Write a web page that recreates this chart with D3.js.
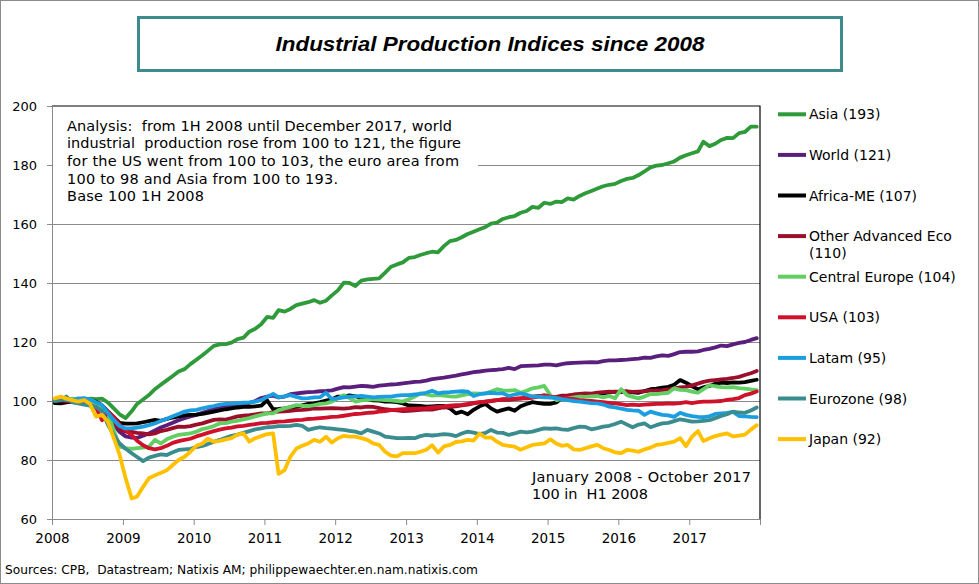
<!DOCTYPE html>
<html><head><meta charset="utf-8">
<script src="https://cdn.jsdelivr.net/npm/d3@7/dist/d3.min.js"></script>
<style>body{margin:0;background:#fff}svg{display:block}text{white-space:pre}</style>
</head><body>
<svg id="chart" width="979" height="584"></svg>
<script>
// ---------- data ----------
const titleText = "Industrial Production Indices since 2008";
const yTickValues = [60, 80, 100, 120, 140, 160, 180, 200];
const xTickYears = [2008, 2009, 2010, 2011, 2012, 2013, 2014, 2015, 2016, 2017];
const seriesKeys = ["Asia", "World", "Africa-ME", "Other Advanced Eco", "Central Europe", "USA", "Latam", "Eurozone", "Japan"];
const legendLabels = [["Asia (193)"], ["World (121)"], ["Africa-ME (107)"], ["Other Advanced Eco", "(110)"], ["Central Europe (104)"], ["USA (103)"], ["Latam (95)"], ["Eurozone (98)"], ["Japan (92)"]];
const analysisLines = [
  "Analysis:  from 1H 2008 until December 2017, world",
  "industrial  production rose from 100 to 121, the figure",
  "for the US went from 100 to 103, the euro area from",
  "100 to 98 and Asia from 100 to 193.",
  "Base 100 1H 2008"
];
const periodLines = ["January 2008 - October 2017", "100 in  H1 2008"];
const sourceText = "Sources: CPB,  Datastream; Natixis AM; philippewaechter.en.nam.natixis.com";

// monthly values, Jan 2008 .. Dec 2017
const asia = [
100,100.3,100.2,100.6,100.8,100.5,100.8,100.6,100.8,99.5,97.5,95.5,
94.2,96.5,99,100.5,102,104,105.5,107,108.5,110,110.8,112.5,
114,115.5,117,118.7,119.2,119.3,119.8,121,121.5,123.5,124.5,126,
128.5,128.2,130.8,130.3,131.2,132.5,133,133.5,134.2,133.3,134,135.8,
137.5,140.1,140,139,140.8,141.2,141.4,141.6,143.5,145.5,146.3,147,
148.5,148.8,149.5,150.1,150.6,150.4,152.5,154.2,154.6,155.5,156.6,157.4,
158.2,159,160.1,160.5,161.7,162.3,162.7,163.8,164.4,165.8,165.5,167.2,
166.8,167.6,167.4,168.7,168.3,169.5,170.4,171.2,172,172.8,173.3,173.6,
174.6,175.3,175.6,176.6,177.8,179.2,179.8,180,180.6,181.2,182.5,183.3,
184,184.6,187.9,186.4,187.2,188.5,189.2,189.1,190.8,191.2,193,193];
const world = [
100,100.2,100.1,100.3,100.1,99.8,99.5,98.8,97.5,95,92,89.5,
88,87.6,87.5,88.2,89,90,91,91.8,92.6,93.5,94.2,94.8,
95.3,96,96.6,97.3,97.6,97.9,98.3,98.4,98.8,99.3,100,101,
101.5,101.8,101.2,101.5,102.3,102.6,102.8,103,103.1,103.3,103.4,103.6,
104.2,104.7,104.6,104.9,105.1,105,104.8,105.2,105.4,105.6,105.7,106,
106.2,106.5,106.6,106.9,107.4,107.7,107.9,108.3,108.6,109,109.4,109.8,
110,110.3,110.5,110.6,110.8,111.2,110.8,111.8,111.9,112,112.1,112.3,
112.3,112.1,112.5,112.8,112.9,113,113.1,113.2,113.1,113.5,113.8,113.8,
113.9,114,114.2,114.4,114.7,114.6,115.1,115.5,115.3,115.9,116.6,116.7,
116.7,116.8,117.3,117.7,118.2,118.8,118.6,119.2,119.7,120,120.7,121.3];
const africaME = [
99.3,99.2,99.5,99.8,99.9,100.2,100,99.8,98.5,96.5,94.5,92.6,
92.3,92.3,92.4,92.8,93.2,93.6,93.3,93.9,94.4,94.8,95.1,95.3,
95.4,95.6,96,96.4,96.8,97.2,97.5,97.8,98,98,98.2,98.4,
100.2,97.2,97.3,97.5,97.8,98,98.5,99,99.2,99.6,100.1,100.6,
101.5,101.5,101.9,101.6,101,100.6,100.2,100.1,99.8,99.8,99.6,99.2,
98.5,98.4,98.3,98.1,98.2,98.3,98.3,97.5,95.8,96.4,95.5,97,
98.2,99,97.5,96.4,97,97.5,96.7,98.2,99,99.6,99.3,99,
99,99.5,100.9,101.2,101.4,101.7,102,102.3,102.4,102.6,102.9,103.2,
103,103.2,102.9,102.8,103.4,104,104.2,104.5,104.8,105.5,107.1,106.2,
105,104,104.6,105.1,105.8,106.2,106.1,106.3,106.2,106.4,106.8,107.2];
const otherAdvanced = [
100,100.1,100.2,100,99.8,99.8,99,98.5,97,95.5,93,90.5,
89.6,89.5,89.2,89,88.7,89,89.8,90.2,90.8,91.3,91.2,91.5,
92,92.4,93,93.6,93.8,93.7,94.2,94.8,95,95.2,95.5,95.8,
95.8,96.2,96.4,96.5,96.7,96.9,97,97.2,97.5,97.4,97.5,97.6,
97.5,97.4,97.6,97.9,97.8,98.1,98,97.6,97.2,97,96.8,96.6,
96.7,96.8,97,97.2,97.1,97.5,97.8,98,98.2,98.5,98.8,99.2,
99.5,99.8,100,100.3,100.5,100.4,100.6,100.8,101.2,101.5,101.7,101.4,
101.2,101.4,101.8,101.9,102.2,102.4,102.6,102.5,102.8,103,103.2,103.1,
103.2,103.3,103.1,103.2,103.3,103.5,103.6,103.7,103.9,104.3,104.6,104.8,
105.3,105.9,106.5,106.9,107.1,107.3,107.5,107.8,108.2,108.8,109.4,110.2];
const centralEurope = [
100.5,100.6,100.3,100.8,100.5,100.2,99.5,98.5,97.8,96,90,84.5,
84,83.8,84,84.2,84.5,86.8,85.6,87,87.9,88.5,88.8,89,
89.6,90.5,90.9,91.5,92.4,92.5,93,93.3,93.8,94.2,94.8,95.3,
95.8,95.8,96.9,97.5,98,98.6,98.4,98.3,98.6,99,99.2,99.8,
100.9,102,101,99.8,100.2,100.4,100.6,100.5,100.3,100.2,100,99.8,
100.6,101.5,102.6,102.2,101.8,102,101.8,101.6,101.5,101.9,102.3,102.6,
102.5,102.6,103.2,104,103.6,103.5,103.7,102.8,103.5,104.3,104.6,105.1,
102,100.3,100.6,100.9,101.2,101.5,101.4,101.6,101.7,101.2,101.7,100.9,
104,102,101.4,100.9,101.5,102.4,102.3,102.6,102.8,104.3,103.8,103.7,
103.2,102.8,104,105.4,105,104.7,104.6,104.7,104.4,104.2,103.9,103.7];
const usa = [
100.5,100.3,100.1,99.8,99.5,99.4,98.6,97.8,93.5,96.4,94.5,92,
90,88.5,86.5,85,84,83.6,84,84.8,85.8,86.4,86.8,87.2,
88,88.6,89.2,89.8,90.3,90.7,91,91.4,91.6,91.9,92.2,92.5,
92.6,92.8,93,93.1,93.3,93.5,93.6,93.9,94,94.2,94.4,94.6,
94.7,95,95.3,95.6,95.7,96,96.1,96.4,96.6,96.9,97.1,97.2,
97.3,97.4,97.5,97.6,97.8,98,98.2,98.4,98.6,98.7,99,99.4,
99.6,99.8,100,100.3,100.6,100.7,100.8,101,100.9,101.1,101.5,102,
101.5,101.2,101,100.9,100.6,100.3,100.1,100,99.8,99.6,99.4,99.2,
98.9,98.6,98.8,98.6,98.8,98.9,99,99,99.2,99.1,99.3,99.6,
99.3,99.6,99.8,99.8,99.9,100,100.4,100.6,101,102,102.5,103.2];
const latam = [
100.5,100.6,100.4,100.2,100.8,101,100.5,99.6,98.6,96,93.5,91.5,
90.7,90.7,91,91.3,91.8,92.4,93.2,94,94.8,95.6,96.4,96.8,
97,97.5,97.9,98.3,98.8,99,99.1,99.3,99.4,99.5,99.8,100.3,
101.4,102.4,101.2,101.6,102,101.4,100.9,101,101.2,101.3,102.8,100.6,
100.9,101.2,101.5,101.6,101.7,101.5,101.2,101.4,101.5,101.5,101.8,102,
102,102.2,102.4,102.8,103.5,102.6,102.9,103,103.2,103.3,103.2,101.7,
102.3,102.6,102.8,102.6,102.6,101.7,102.2,102.6,102.1,101.5,101.5,101.2,
101.2,101,100.6,100.3,100,99.8,99.5,99.3,99.2,98.8,98.1,97.8,
97.4,97,96.8,96.7,95.3,96.4,95.8,95.3,95.1,94.6,96,95.3,
94.9,94.6,94.5,94.8,95.6,95.8,96,96.3,94.9,94.8,94.6,94.5];
const eurozone = [
100,100.3,101.5,99.5,99.2,98.8,98.4,98,96.6,92,88.5,85.6,
83.8,82.3,81,79.6,80.8,81.4,81.9,81.7,82.6,83.4,83.6,83.8,
84.4,84.8,85.4,86.2,86.8,87.5,88.2,88.6,89.2,89.8,90.4,90.7,
91.1,91.2,91.5,91.5,91.6,91.9,91.6,90.2,90.7,91.1,90.8,90.6,
90.4,90.2,89.9,89.6,89,90.2,89.6,89,87.9,87.7,87.4,87.4,
87.5,87.4,88.1,88.5,88.3,88.5,88.8,88.6,88.1,89,89.6,89.3,
88.8,89.2,90.2,89.3,89.2,88.5,89,89.6,89.4,89.6,90.2,90.7,
90.6,90.7,90.4,90.2,90.8,91.3,91.2,90.4,90.8,91.3,91.6,92.2,
93,92,91.1,92,92.4,91.1,91.8,92.4,92.6,93.2,93.8,93.4,
93,93.1,93.3,93.5,94.2,94.9,95.5,96.4,96.1,96,96.8,97.8];
const japan = [
100.9,101.5,100.8,100.3,99.8,100.3,99,94.7,95.3,93,87.4,81.7,
73.8,67,67.6,70.9,73.8,74.8,75.6,76.5,78.3,80,81.1,82.8,
84.8,85.6,87.2,86.2,86.5,87,87.4,88.6,89,86.2,87.4,88.1,
88.8,89,75.3,76.6,81.1,83.9,84.8,85.6,86.8,86.2,87.9,85.9,
87.4,88.2,87.9,87.9,87.4,86.8,85.6,85.1,82.8,81.5,81.2,82.3,
82.3,82.3,82.8,83.5,85,82.5,84.6,85.1,86.1,86.3,86.8,86.6,
89,87.6,87.7,86.2,85.1,84.8,84.5,83.5,84.3,85.1,85.4,85.6,
87,85.6,84.8,85.1,83.6,83.4,84,84.6,85.1,84,83.4,82.6,
82.3,83.4,83.2,82.8,83.6,84.2,85.1,85.4,85.8,86.2,87.4,84.7,
87.9,89.8,86.4,87.4,88.1,88.6,89,88,88.3,88.6,90.3,91.8];

const seriesValues = [asia, world, africaME, otherAdvanced, centralEurope, usa, latam, eurozone, japan];
const seriesColors = ["#2f9a3a", "#5a1f7d", "#000000", "#9b0f2a", "#63cf63", "#d0112b", "#1a9ee0", "#3b8c8f", "#ffc000"];

// ---------- drawing ----------
const svg = d3.select("#chart");
const font = "'DejaVu Sans', Verdana, sans-serif";

svg.append("rect").attr("x", 0.5).attr("y", 0.5).attr("width", 978).attr("height", 583)
  .attr("fill", "#fff").attr("stroke", "#8c8c8c");

// title
svg.append("rect").attr("x", 138.5).attr("y", 17.5).attr("width", 703).attr("height", 53)
  .attr("fill", "#fff").attr("stroke", "#3e8b8e").attr("stroke-width", 3);
svg.append("text").attr("x", 490).attr("y", 51).attr("text-anchor", "middle")
  .attr("font-family", "'Liberation Sans', Arial, sans-serif").attr("font-weight", "bold")
  .attr("font-style", "italic").attr("font-size", 20.5)
  .attr("textLength", 429).attr("lengthAdjust", "spacingAndGlyphs").text(titleText);

const plotLeft = 52, plotRight = 760, plotTop = 106, plotBottom = 519;
const months = d3.range(asia.length).map(i => new Date(2008, i, 15));
const x = d3.scaleTime().domain([new Date(2008, 0, 1), new Date(2018, 0, 1)]).range([plotLeft, plotRight]);
const y = d3.scaleLinear().domain([60, 200]).range([plotBottom, plotTop]);

// gridlines
svg.append("g").selectAll("line").data(yTickValues.filter(v => v > 60 && v < 200)).join("line")
  .attr("x1", plotLeft).attr("x2", plotRight).attr("y1", d => y(d)).attr("y2", d => y(d))
  .attr("stroke", "#8a8a8a").attr("stroke-width", 1).attr("shape-rendering", "crispEdges");
// top and right plot border (black)
svg.append("path").attr("d", `M${plotLeft},${y(200)}H${plotRight}V${plotBottom}`)
  .attr("fill", "none").attr("stroke", "#000").attr("stroke-width", 1.2);

// y axis
const yAxis = svg.append("g").attr("transform", `translate(${plotLeft},0)`)
  .call(d3.axisLeft(y).tickValues(yTickValues).tickSize(5).tickPadding(10).tickSizeOuter(0));
yAxis.select(".domain").attr("stroke", "#8a8a8a");
yAxis.selectAll(".tick line").attr("stroke", "#8a8a8a");
yAxis.selectAll("text").attr("font-family", font).attr("font-size", 13).attr("fill", "#000");

// x axis
const xTickDates = xTickYears.map(yr => new Date(yr, 0, 1)).concat([new Date(2018, 0, 1)]);
const xAxis = svg.append("g").attr("transform", `translate(0,${plotBottom})`)
  .call(d3.axisBottom(x).tickValues(xTickDates).tickSize(6).tickPadding(8).tickSizeOuter(0)
    .tickFormat(d => d.getFullYear() <= 2017 ? d.getFullYear() : ""));
xAxis.select(".domain").attr("stroke", "#8a8a8a");
xAxis.selectAll(".tick line").attr("stroke", "#8a8a8a");
xAxis.selectAll("text").attr("font-family", font).attr("font-size", 13.5).attr("fill", "#000");

// analysis box
svg.append("rect").attr("x", 53).attr("y", 108).attr("width", 425).attr("height", 104).attr("fill", "#fff");
const analysisWidths = [385, 394, 392, 271, 137];
svg.append("g").selectAll("text").data(analysisLines).join("text")
  .attr("x", 67).attr("y", (d, i) => 130.7 + i * 17.6)
  .attr("font-family", font).attr("font-size", 14.5).attr("fill", "#000")
  .attr("textLength", (d, i) => analysisWidths[i]).attr("lengthAdjust", "spacing")
  .text(d => d);

// lines
const line = d3.line().x((d, i) => x(months[i])).y(d => y(d));
svg.append("g").selectAll("path").data(seriesValues).join("path")
  .attr("d", d => line(d)).attr("fill", "none")
  .attr("stroke", (d, i) => seriesColors[i]).attr("stroke-width", 3.8)
  .attr("stroke-linejoin", "round").attr("stroke-linecap", "round");

// period annotation
const periodWidths = [219, 116];
svg.append("g").selectAll("text").data(periodLines).join("text")
  .attr("x", 532).attr("y", (d, i) => 481.7 + i * 17.4)
  .attr("font-family", font).attr("font-size", 14.5).attr("fill", "#000")
  .attr("textLength", (d, i) => periodWidths[i]).attr("lengthAdjust", "spacing")
  .text(d => d);

// legend
const lg = svg.append("g").selectAll("g").data(seriesKeys).join("g")
  .attr("transform", (d, i) => `translate(778,${114.3 + i * 40.6})`);
lg.append("line").attr("x1", 0).attr("x2", 28).attr("y1", 0).attr("y2", 0)
  .attr("stroke", (d, i) => seriesColors[i]).attr("stroke-width", 4);
lg.each(function (d, i) {
  const t = d3.select(this).append("text").attr("x", 31).attr("y", 5)
    .attr("font-family", font).attr("font-size", 14).attr("fill", "#000");
  legendLabels[i].forEach((s, k) => t.append("tspan").attr("x", 31).attr("dy", k === 0 ? 0 : 17).text(s));
});

// source
svg.append("text").attr("x", 5).attr("y", 574)
  .attr("font-family", "'DejaVu Sans Condensed', 'Liberation Sans Narrow', 'Liberation Sans', sans-serif")
  .attr("font-stretch", "condensed").attr("font-size", 12.5).attr("fill", "#000")
  .attr("textLength", 473).attr("lengthAdjust", "spacingAndGlyphs").text(sourceText);
</script>
</body></html>
